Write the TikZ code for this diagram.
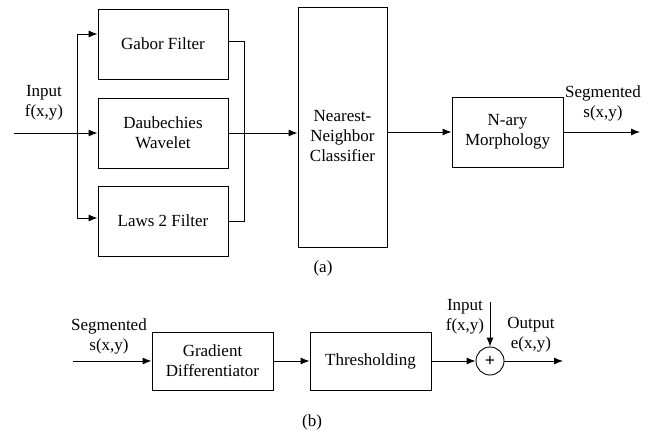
\documentclass[tikz,border=0pt]{standalone}
\usepackage{fontspec}
\setmainfont{Liberation Serif}
\usetikzlibrary{arrows.meta}

\tikzset{
    block/.style={draw, line width=0.9pt, minimum width=130pt, minimum height=70pt,
        align=center, inner sep=0pt},
    sumnode/.style={draw, circle, line width=0.9pt, minimum size=28pt, inner sep=0pt},
    lbl/.style={align=center, inner sep=0pt},
    flow/.style={line width=0.9pt, -{Latex[length=9pt,width=7pt]}}
}

\begin{document}
\begin{tikzpicture}[x=1pt, y=-1pt, font=\fontsize{17}{20}\selectfont]
    \useasboundingbox (0,0) rectangle (652,435);
    % Part (a): filter bank and classifier.
        \node[block] (gabor) at (163,44) {Gabor Filter};
        \node[block] (daub) at (163,133) {Daubechies\\Wavelet};
        \node[block] (laws) at (163,221) {Laws 2 Filter};
        \node[block, minimum width=89pt, minimum height=240pt] (nn) at (342.5,127) {};
        \node[lbl] (nntext) at (342.5,136) {Nearest-\\Neighbor\\Classifier};
        \node[block, minimum width=111pt] (nary) at (507.5,132) {N-ary\\Morphology};
        \coordinate (inA) at (14,133);
        \coordinate (split) at (77,133);
        \coordinate (join) at (244,0);
        \coordinate (outA) at (640,132);
    % Connectors of part (a).
        \draw[line width=0.9pt] (inA) -- (split);
        \draw[flow] (split) |- ([yshift=10pt]gabor.west);
        \draw[flow] (split) |- ([yshift=3pt]laws.west);
        \draw[flow] (split) -- (daub.west);
        \draw[line width=0.9pt] ([yshift=3pt]gabor.east) -| (join |- laws.east) -- (laws.east);
        \draw[flow] (daub.east) -- (daub.east -| nn.west);
        \draw[flow] (nary.west -| nn.east) -- (nary.west);
        \draw[flow] (nary.east) -- (outA);
    % Below nodes are the labels of (a).
        \node[lbl] (inlblA) at (44,103) {Input\\f(x,y)};
        \node[lbl] (seglblA) at (603,103) {Segmented\\s(x,y)};
        \node[lbl] (capA) at (323,268) {(a)};
    % Part (b): edge extraction.
        \node[block, minimum width=121pt, minimum height=58pt] (grad) at (212.5,361) {Gradient\\Differentiator};
        \node[block, minimum width=121pt, minimum height=58pt] (thresh) at (370.5,361) {Thresholding};
        \node[sumnode] (sum) at (490,361) {\fontsize{18}{18}\selectfont\bfseries +};
        \coordinate (inB) at (73,361);
        \coordinate (topB) at (490,302);
        \coordinate (outB) at (563,361);
        \draw[flow] (inB) -- (grad.west);
        \draw[flow] (grad.east) -- (thresh.west);
        \draw[flow] (thresh.east) -- (sum.west);
        \draw[flow] (topB) -- (sum.north);
        \draw[flow] (sum.east) -- (outB);
    % Below nodes are the labels of (b).
        \node[lbl] (seglblB) at (109,336) {Segmented\\s(x,y)};
        \node[lbl] (inlblB) at (465,317) {Input\\f(x,y)};
        \node[lbl] (outlblB) at (531,335) {Output\\e(x,y)};
        \node[lbl] (capB) at (312,422) {(b)};
\end{tikzpicture}
\end{document}
